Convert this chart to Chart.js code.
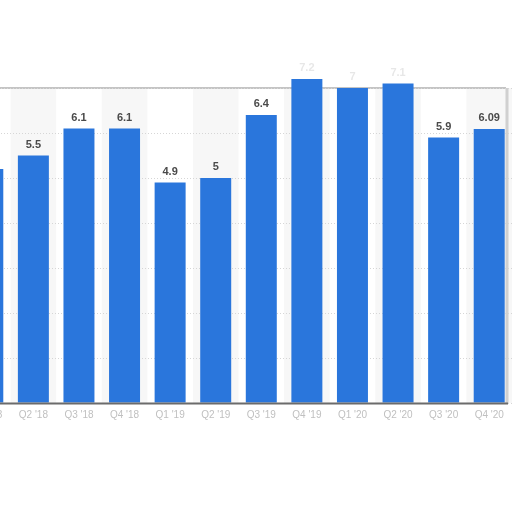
<!DOCTYPE html>
<html>
<head>
<meta charset="utf-8">
<script src="https://cdn.jsdelivr.net/npm/chart.js@4/dist/chart.umd.min.js"></script>
<style>
  html, body { margin: 0; padding: 0; background: #fff; overflow: hidden; width: 512px; height: 512px; }
  #wrap { position: absolute; left: -40px; top: 0; width: 560px; height: 512px; }
</style>
</head>
<body>
<div id="wrap"><canvas id="c" width="560" height="512"></canvas></div>
<script>
const categories = ["Q1 '18", "Q2 '18", "Q3 '18", "Q4 '18", "Q1 '19", "Q2 '19", "Q3 '19", "Q4 '19", "Q1 '20", "Q2 '20", "Q3 '20", "Q4 '20"];
const values = [5.2, 5.5, 6.1, 6.1, 4.9, 5, 6.4, 7.2, 7, 7.1, 5.9, 6.09];
const yTicks = [0, 1, 2, 3, 4, 5, 6, 7];

const BAR_COLOR = '#2a76dc';

const backgroundPlugin = {
  id: 'bgShade',
  beforeDraw(chart) {
    const { ctx, chartArea, scales } = chart;
    const x = scales.x;
    const step = x.getPixelForValue(1) - x.getPixelForValue(0);
    ctx.save();
    ctx.fillStyle = '#f7f7f7';
    for (let i = 1; i < categories.length; i += 2) {
      const cx = x.getPixelForValue(i);
      ctx.fillRect(cx - step / 2, chartArea.top, step, chartArea.bottom - chartArea.top);
    }
    ctx.strokeStyle = '#c4c4c4';
    ctx.lineWidth = 2;
    ctx.beginPath();
    ctx.moveTo(chartArea.left, chartArea.top);
    ctx.lineTo(chartArea.right - 6, chartArea.top);
    ctx.stroke();
    ctx.strokeStyle = '#d0d0d0';
    ctx.lineWidth = 3;
    ctx.beginPath();
    ctx.moveTo(chartArea.right - 5, chartArea.top);
    ctx.lineTo(chartArea.right - 5, chartArea.bottom);
    ctx.stroke();
    ctx.restore();
  },
  afterDatasetsDraw(chart) {
    const { ctx, chartArea } = chart;
    const meta = chart.getDatasetMeta(0);
    ctx.save();
    ctx.strokeStyle = '#6b6b6b';
    ctx.lineWidth = 2;
    ctx.beginPath();
    ctx.moveTo(chartArea.left, chartArea.bottom + 0.5);
    ctx.lineTo(chartArea.right - 4, chartArea.bottom + 0.5);
    ctx.stroke();
    ctx.font = 'bold 11px "Liberation Sans", Arial, sans-serif';
    ctx.textAlign = 'center';
    ctx.textBaseline = 'middle';
    meta.data.forEach((bar, i) => {
      const v = values[i];
      ctx.fillStyle = v >= 7 ? 'rgba(120,120,120,0.18)' : '#4a4a4a';
      ctx.fillText(String(v), bar.x, bar.y - 11);
    });
    ctx.restore();
  }
};

new Chart(document.getElementById('c'), {
  type: 'bar',
  data: {
    labels: categories,
    datasets: [{
      data: values,
      backgroundColor: BAR_COLOR,
      borderWidth: 0,
      barPercentage: 0.85,
      categoryPercentage: 0.8,
      clip: false
    }]
  },
  options: {
    responsive: false,
    maintainAspectRatio: false,
    animation: false,
    devicePixelRatio: 1,
    layout: { padding: { left: 5, right: 8, top: 88, bottom: 85 } },
    plugins: { legend: { display: false }, tooltip: { enabled: false } },
    scales: {
      x: {
        grid: { display: false, drawTicks: false },
        border: { display: false },
        ticks: {
          color: '#c0c0c0',
          font: { size: 10, family: '"Liberation Sans", Arial, sans-serif' },
          padding: 6,
          maxRotation: 0,
          autoSkip: false
        }
      },
      y: {
        min: 0,
        max: 7,
        afterBuildTicks(scale) { scale.ticks = yTicks.map(v => ({ value: v })); },
        grid: { color: '#d6d6d6', lineWidth: 1, drawTicks: false },
        border: { display: false, dash: [1, 2] },
        ticks: { display: false }
      }
    }
  },
  plugins: [backgroundPlugin]
});
</script>
</body>
</html>
